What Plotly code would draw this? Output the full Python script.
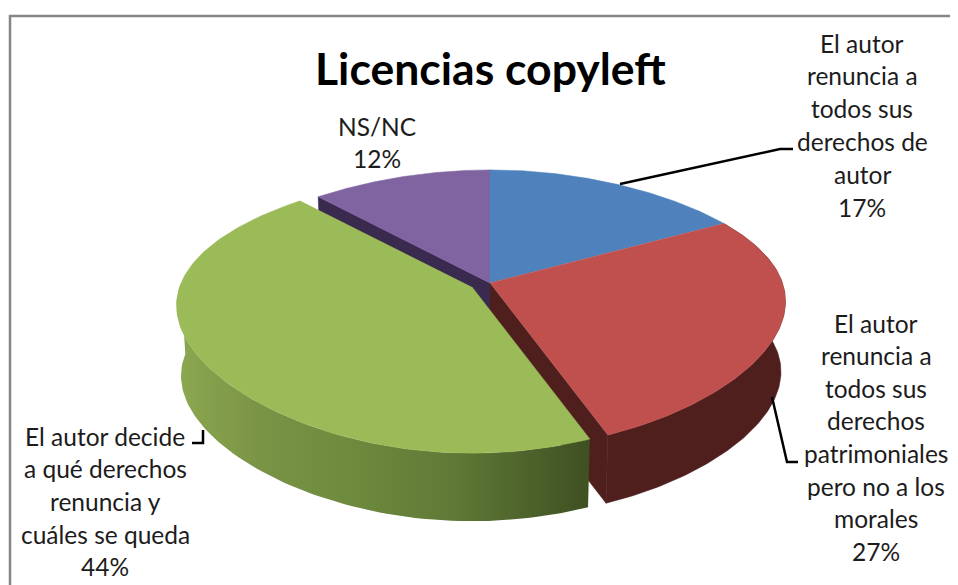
import numpy as np
import plotly.graph_objects as go

# Licencias copyleft, share of answers
categories = ["El autor renuncia a todos sus derechos de autor",
              "El autor renuncia a todos sus derechos patrimoniales pero no a los morales",
              "El autor decide a qué derechos renuncia y cuáles se queda",
              "NS/NC"]
values = [17, 27, 44, 12]
label_lines = [
    ["El autor", "renuncia a", "todos sus", "derechos de", "autor", "17%"],
    ["El autor", "renuncia a", "todos sus", "derechos", "patrimoniales", "pero no a los", "morales", "27%"],
    ["El autor decide", "a qué derechos", "renuncia y", "cuáles se queda", "44%"],
    ["NS/NC", "12%"],
]

top_colors = ["#4F81BD", "#C0504D", "#9BBB59", "#8064A2"]
wall_colors = ["#27405E", "#4F1F1E", "#4E5E2C", "#3A2A4E"]
offsets = [(0, 0), (0, 0), (-18, 4), (0, 0)]  # only the green slice is pulled out
label_pos = [(862, 43), (876, 323), (105, 436), (377, 126)]
label_steps = [32.8, 32.6, 32.7, 32]

# fake 3D: ellipse with a bit of perspective, page pixels as axis units
CX, CY = 490, 283
RX = (292.4, -44.9, -16.3)  # half width, changes from back to front of the disc
RY, PY = 134.6, 0.19
DEPTH, SHRINK = 70.5, 0.985
BODY_MARGIN = 8  # the page puts the plot 8px in from the corner


def top_point(deg, off):
    t = np.radians(deg)
    c = np.cos(t)
    x = CX + off[0] + np.sin(t) * (RX[0] + RX[1] * c + RX[2] * c * c)
    y = CY + off[1] - RY * c / (1 + PY * c)
    return x, y


def bottom_point(x, y, off):
    ax, ay = CX + off[0], CY + off[1]
    return ax + (x - ax) * SHRINK, ay + (y - ay) * SHRINK + DEPTH


def poly(x, y, color, **kw):
    return go.Scatter(x=list(x), y=list(y), mode="lines", fill="toself", fillcolor=color,
                      line=dict(width=0.5, color=color), hoverinfo="skip", showlegend=False, **kw)


edges = np.concatenate([[0], np.cumsum(values)]) * 360 / sum(values)
tops, outer, inner_a, inner_b = [], [], [], []
for i in range(len(values)):
    off = offsets[i]
    deg = np.linspace(edges[i], edges[i + 1], 120)
    x, y = top_point(deg, off)
    ax, ay = CX + off[0], CY + off[1]
    tops.append(poly(np.r_[ax, x], np.r_[ay, y], top_colors[i]))
    bx, by = bottom_point(x, y, off)
    outer.append((x, y, bx, by))
    bax, bay = bottom_point(ax, ay, off)
    inner_a.append(poly([ax, x[0], bx[0], bax], [ay, y[0], by[0], bay], wall_colors[i]))
    inner_b.append(poly([ax, x[-1], bx[-1], bax], [ay, y[-1], by[-1], bay], wall_colors[i]))

fig = go.Figure()

# back walls first, the green slice goes on top of everything
fig.add_trace(inner_a[3])
fig.add_trace(inner_b[3])
fig.add_trace(inner_b[1])

x, y, bx, by = outer[1]
fig.add_trace(poly(np.r_[x, bx[::-1]], np.r_[y, by[::-1]], wall_colors[1]))

fig.add_trace(tops[3])
fig.add_trace(tops[0])
fig.add_trace(tops[1])

# green wall, only the front part of the arc shows
x, y, bx, by = outer[2]
keep = np.radians(np.linspace(edges[2], edges[3], 120))
mask = np.cos(keep) < 0.05
fig.add_trace(go.Scatter(
    x=list(np.r_[x[mask], bx[mask][::-1]]),
    y=list(np.r_[y[mask], by[mask][::-1]]),
    mode="lines", fill="toself",
    fillgradient=dict(type="horizontal",
                      colorscale=[[0, "#8CA850"], [0.2, "#7A9446"], [0.42, "#6D8A3D"],
                                  [0.67, "#5F7A36"], [0.9, "#485C28"], [1, "#3F5021"]]),
    line=dict(width=0), hoverinfo="skip", showlegend=False))
fig.add_trace(tops[2])

# leader lines
leaders = [
    ([620, 780, 793], [184, 149, 149]),
    ([772, 787, 798], [397, 462, 462]),
    ([192, 203, 203], [443, 443, 430]),
]
for lx, ly in leaders:
    fig.add_trace(go.Scatter(x=lx, y=ly, mode="lines", line=dict(color="black", width=2.5),
                             hoverinfo="skip", showlegend=False))

for lines, (lx, ly), step in zip(label_lines, label_pos, label_steps):
    for n, text in enumerate(lines):
        fig.add_annotation(x=lx, y=ly + n * step, text=text, showarrow=False,
                           xanchor="center", yanchor="middle",
                           font=dict(family="Lato", size=24.5, color="#1c1c1c"))

fig.add_annotation(x=490, y=67, text="<b>Licencias copyleft</b>", showarrow=False,
                   xanchor="center", yanchor="middle",
                   font=dict(family="Lato", size=44.5, color="black"))

fig.update_layout(
    width=958 - BODY_MARGIN, height=585 - BODY_MARGIN,
    margin=dict(l=0, r=0, t=0, b=0),
    paper_bgcolor="white", plot_bgcolor="white",
    xaxis=dict(range=[BODY_MARGIN, 958], visible=False, fixedrange=True),
    yaxis=dict(range=[585, BODY_MARGIN], visible=False, fixedrange=True),
    shapes=[dict(type="path", path="M 10 585 L 10 16 L 958 16",
                 line=dict(color="#868686", width=2.5))],
)

fig.write_html("out.html")
